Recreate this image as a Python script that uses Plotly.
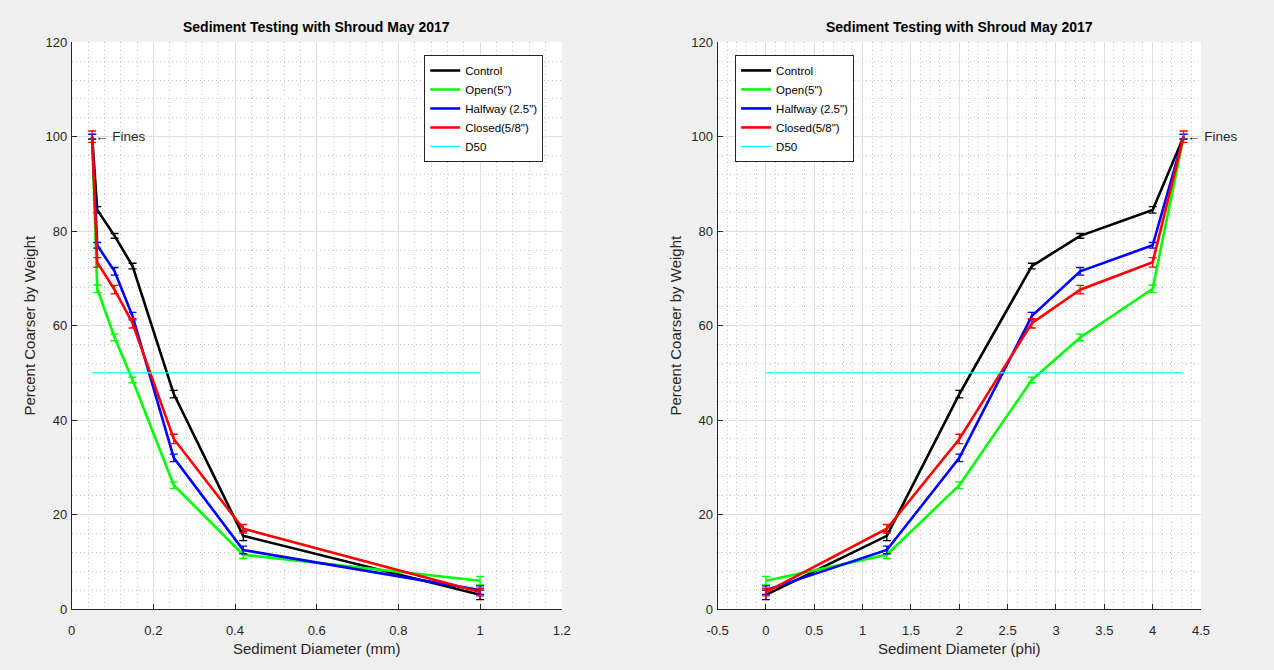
import plotly.graph_objects as go

# ---- data ----
diam_mm = [1.0, 0.42, 0.25, 0.149, 0.105, 0.0625, 0.05]
diam_phi = [0.0, 1.25, 2.0, 2.75, 3.25, 4.0, 4.32]

control = [3.0, 15.5, 45.5, 72.6, 79.0, 84.5, 100.0]
open5 = [6.0, 11.5, 26.2, 48.5, 57.5, 67.8, 100.0]
halfway = [4.0, 12.5, 32.0, 62.0, 71.5, 77.0, 100.0]
closed = [3.6, 17.0, 36.0, 60.5, 67.6, 73.4, 100.0]

control_err = [1.0, 1.0, 0.8, 0.6, 0.5, 0.7, 0.5]
open5_err = [0.9, 0.8, 0.7, 0.6, 0.7, 0.8, 0.5]
halfway_err = [0.9, 0.8, 0.8, 0.8, 0.8, 0.6, 0.5]
closed_err = [0.8, 0.9, 1.0, 1.0, 0.9, 1.0, 1.2]

series_names = ['Control', 'Open(5")', 'Halfway (2.5")', 'Closed(5/8")']
series_colors = ['#000000', '#00ff00', '#0000ff', '#ff0000']
series_vals = [control, open5, halfway, closed]
series_errs = [control_err, open5_err, halfway_err, closed_err]

d50_value = 50
title_text = "Sediment Testing with Shroud May 2017"

x1_ticks = [0, 0.2, 0.4, 0.6, 0.8, 1.0, 1.2]
x1_labels = ["0", "0.2", "0.4", "0.6", "0.8", "1", "1.2"]
x2_ticks = [-0.5, 0, 0.5, 1, 1.5, 2, 2.5, 3, 3.5, 4, 4.5]
x2_labels = ["-0.5", "0", "0.5", "1", "1.5", "2", "2.5", "3", "3.5", "4", "4.5"]
y_ticks = [0, 20, 40, 60, 80, 100, 120]
y_labels = ["0", "20", "40", "60", "80", "100", "120"]

FONT = "Liberation Sans, Arial, Helvetica, sans-serif"
TXT = "#262626"

fig = go.Figure()

for xs, xa, ya, leg in [(diam_mm, 'x', 'y', 'legend'), (diam_phi, 'x2', 'y2', 'legend2')]:
    for name, col, vals, errs in zip(series_names, series_colors, series_vals, series_errs):
        fig.add_trace(go.Scatter(
            x=xs, y=vals, mode='lines', name=name,
            line=dict(color=col, width=2.6),
            error_y=dict(type='data', array=errs, visible=True, color=col,
                         thickness=1.3, width=4),
            xaxis=xa, yaxis=ya, legend=leg))
    fig.add_trace(go.Scatter(
        x=[min(xs), max(xs)], y=[d50_value, d50_value], mode='lines', name='D50',
        line=dict(color='#00ffff', width=1.2),
        xaxis=xa, yaxis=ya, legend=leg))

axis_common = dict(
    showline=True, linecolor=TXT, linewidth=1, mirror=False,
    ticks='inside', ticklen=5, tickcolor=TXT, tickwidth=1,
    showgrid=True, gridcolor='#dedede', gridwidth=1,
    zeroline=False, tickfont=dict(family=FONT, size=13, color=TXT),
    tickmode='array', automargin=False,
)

def minor(dt):
    return dict(dtick=dt, showgrid=True, gridcolor='#c8c8c8', griddash='1px,3px',
                gridwidth=1, ticks='')

ydom = [0.091, 0.937]
fig.update_layout(
    width=1274, height=670,
    margin=dict(l=0, r=0, t=0, b=0, autoexpand=False),
    paper_bgcolor='#f0f0f0', plot_bgcolor='#ffffff',
    showlegend=True,
    font=dict(family=FONT, color=TXT),
    xaxis=dict(domain=[0.0563, 0.4409], range=[0, 1.2], tickvals=x1_ticks,
               ticktext=x1_labels, anchor='y', minor=minor(0.04),
               ticklabelstandoff=9, **axis_common),
    yaxis=dict(domain=ydom, range=[0, 120], tickvals=y_ticks, ticktext=y_labels,
               anchor='x', minor=minor(4), ticklabelstandoff=1, **axis_common),
    xaxis2=dict(domain=[0.5633, 0.9427], range=[-0.5, 4.5], tickvals=x2_ticks,
                ticktext=x2_labels, anchor='y2', minor=minor(0.1),
                ticklabelstandoff=9, **axis_common),
    yaxis2=dict(domain=ydom, range=[0, 120], tickvals=y_ticks, ticktext=y_labels,
                anchor='x2', minor=minor(4), ticklabelstandoff=1, **axis_common),
    legend=dict(x=0.333, y=0.918, xanchor='left', yanchor='top',
                bgcolor='#ffffff', bordercolor='#262626', borderwidth=1,
                font=dict(family=FONT, size=11.5, color='#000000'),
                tracegroupgap=0, itemwidth=30),
    legend2=dict(x=0.577, y=0.918, xanchor='left', yanchor='top',
                 bgcolor='#ffffff', bordercolor='#262626', borderwidth=1,
                 font=dict(family=FONT, size=11.5, color='#000000'),
                 tracegroupgap=0, itemwidth=30),
)

annotations = []
# titles
for xc in [(0.0563 + 0.4409) / 2, (0.5633 + 0.9427) / 2]:
    annotations.append(dict(x=xc, y=(670 - 27) / 670, xref='paper', yref='paper',
                            text='<b>' + title_text + '</b>', showarrow=False,
                            font=dict(family=FONT, size=14, color='#000000'),
                            xanchor='center', yanchor='middle'))
# x-axis titles
for xc, t in [((0.0563 + 0.4409) / 2, 'Sediment Diameter (mm)'),
              ((0.5633 + 0.9427) / 2, 'Sediment Diameter (phi)')]:
    annotations.append(dict(x=xc, y=(670 - 648) / 670, xref='paper', yref='paper',
                            text=t, showarrow=False,
                            font=dict(family=FONT, size=15, color=TXT),
                            xanchor='center', yanchor='middle'))
# y-axis titles
for xp in [30 / 1274, 676 / 1274]:
    annotations.append(dict(x=xp, y=(ydom[0] + ydom[1]) / 2, xref='paper', yref='paper',
                            text='Percent Coarser by Weight', showarrow=False,
                            textangle=-90,
                            font=dict(family=FONT, size=15, color=TXT),
                            xanchor='center', yanchor='middle'))
# Fines labels
annotations.append(dict(x=diam_mm[-1], y=100, xref='x', yref='y',
                        text='\u2190 Fines', showarrow=False, xanchor='left',
                        yanchor='middle', xshift=1,
                        font=dict(family=FONT, size=13.5, color=TXT)))
annotations.append(dict(x=diam_phi[-1], y=100, xref='x2', yref='y2',
                        text='\u2190 Fines', showarrow=False, xanchor='left',
                        yanchor='middle', xshift=1,
                        font=dict(family=FONT, size=13.5, color=TXT)))
fig.update_layout(annotations=annotations)

fig.write_html("out.html")
